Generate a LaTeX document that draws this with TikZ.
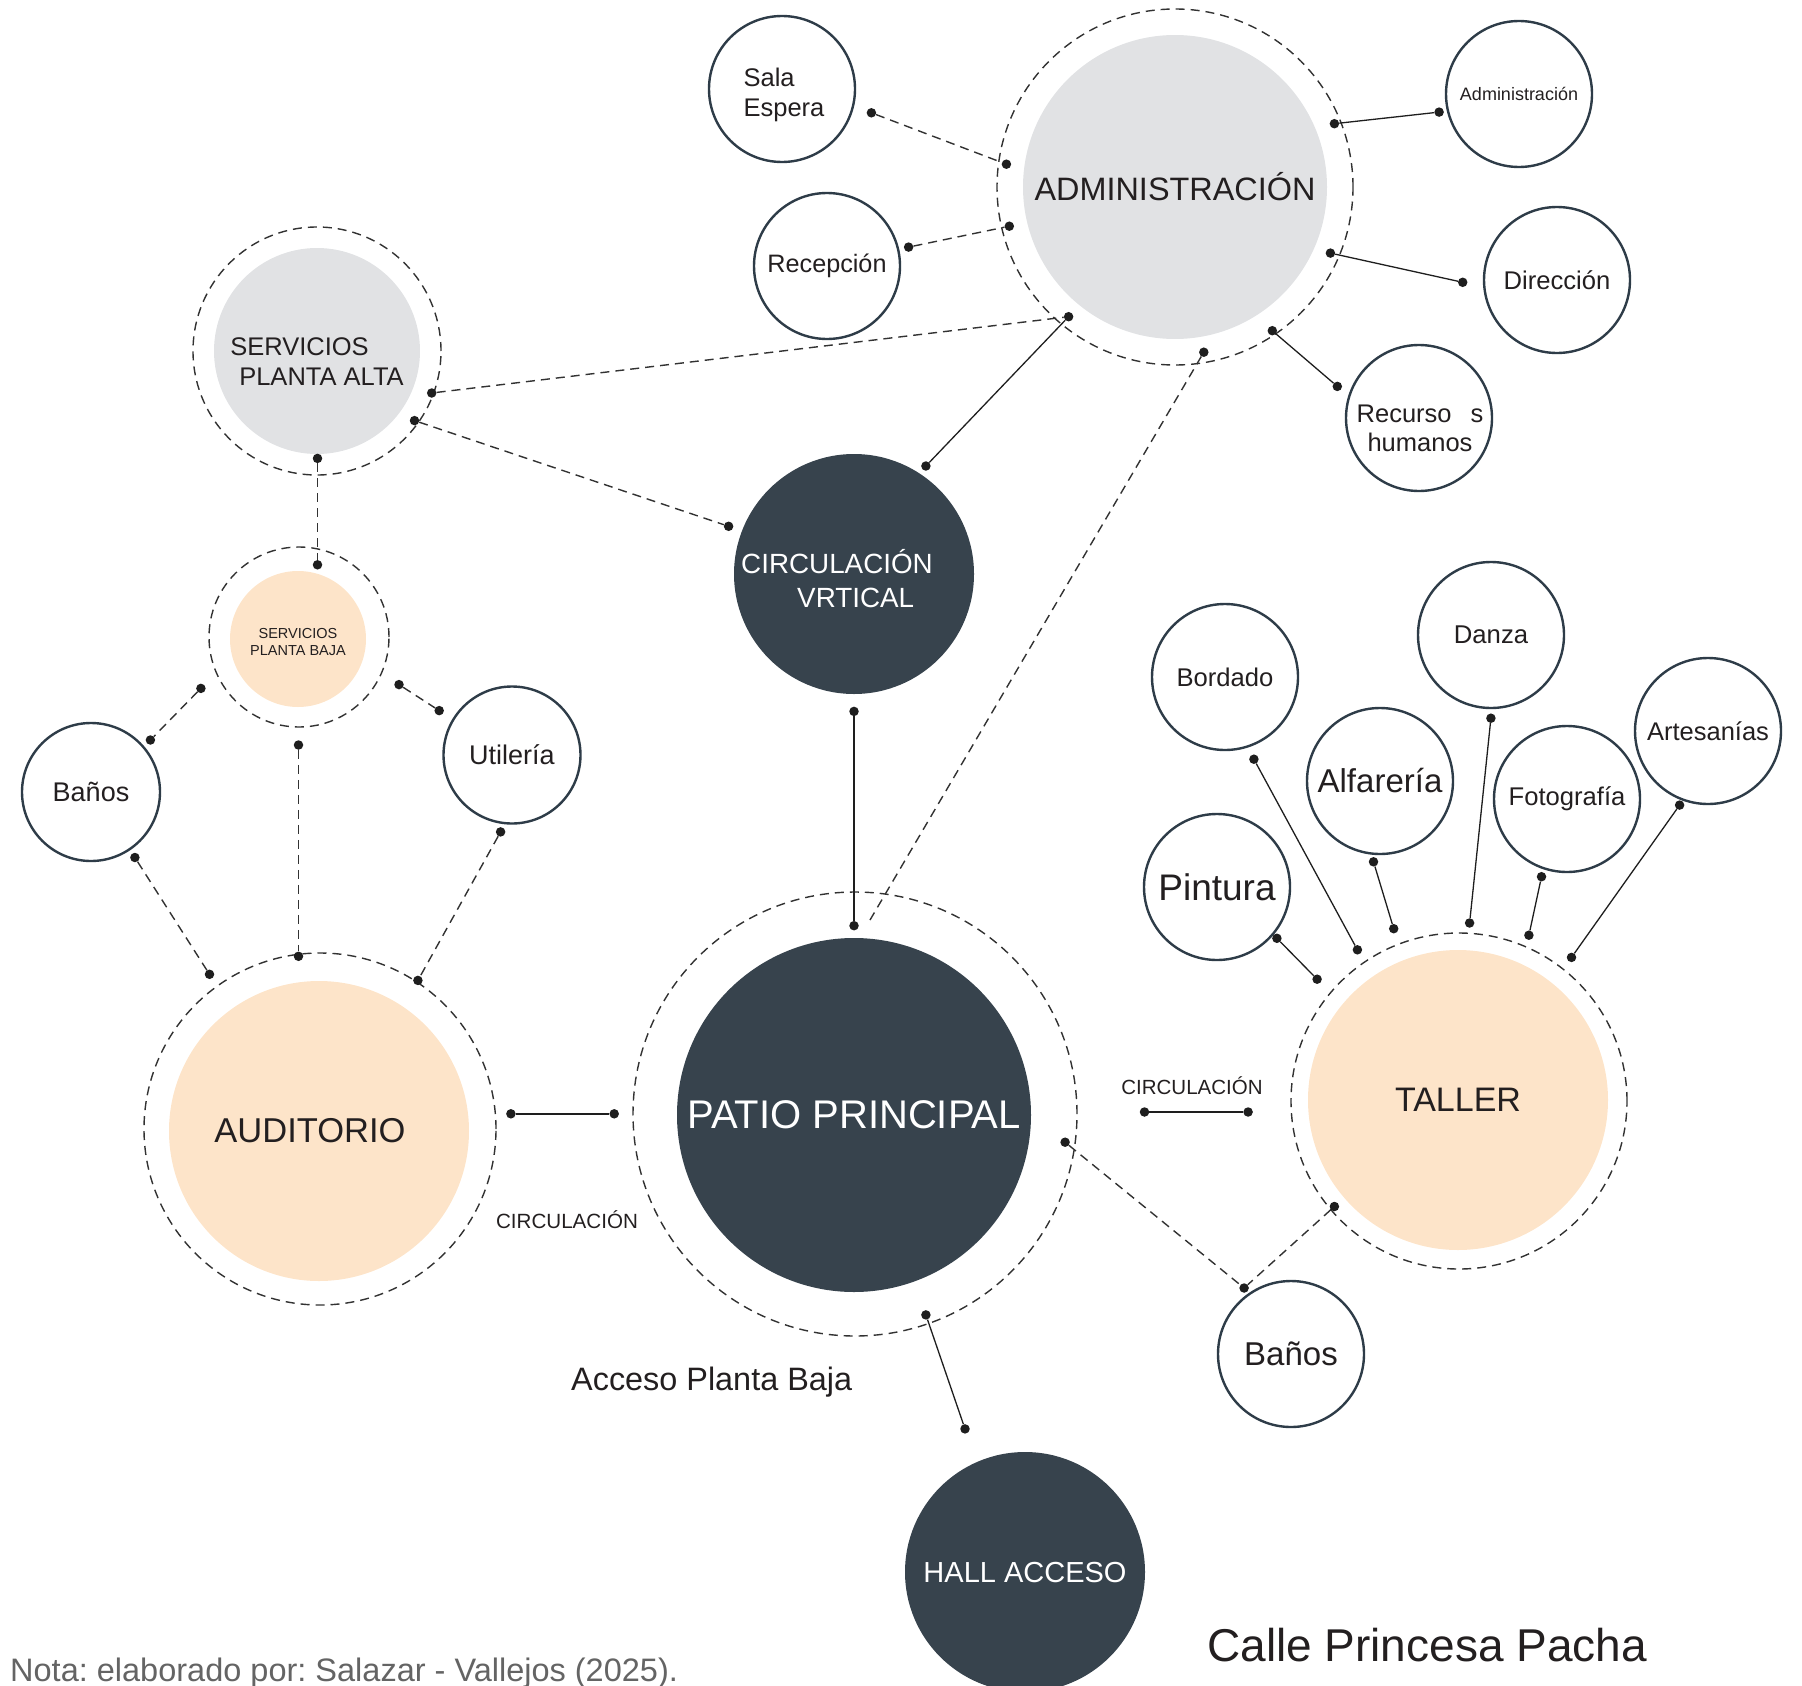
\documentclass[tikz,border=0pt]{standalone}
\usepackage{fontspec}
\setmainfont{Liberation Sans}
\usetikzlibrary{calc}
\definecolor{darkc}{RGB}{55,67,77}
\definecolor{satc}{RGB}{46,60,72}
\definecolor{grayc}{RGB}{225,226,228}
\definecolor{peachc}{RGB}{253,228,201}
\definecolor{ringc}{RGB}{50,50,50}
\definecolor{txtc}{RGB}{35,31,32}
\definecolor{notac}{RGB}{100,100,100}
\definecolor{linec}{RGB}{30,30,30}
\newcommand\fsz[2]{\fontsize{#1}{#2}\selectfont}
\frenchspacing
\begin{document}
\begin{tikzpicture}[x=1pt,y=-1pt,
  ring/.style={circle, draw=ringc, line width=1.4pt, dash pattern=on 9pt off 6pt, inner sep=0pt, minimum size=#1},
  blob/.style={circle, inner sep=0pt, minimum size=#1, align=center, text=txtc},
  sat/.style={circle, draw=satc, line width=2.4pt, fill=white, inner sep=0pt, minimum size=146pt, align=center, text=txtc},
  dot/.style={circle, fill=linec, inner sep=0pt, minimum size=9.5pt},
  conn/.style={draw=linec, line width=1.3pt},
  thickconn/.style={draw=linec, line width=2.4pt},
  dconn/.style={draw=ringc, line width=1.4pt, dash pattern=on 9pt off 6pt},
  txt/.style={inner sep=0pt, text=txtc}]
\useasboundingbox (0,0) rectangle (1802,1686);

% dashed rings
\node[ring=356pt] (admR) at (1175,187) {};
\node[ring=248pt] (spaR) at (317,351) {};
\node[ring=180pt] (spbR) at (299,637) {};
\node[ring=352pt] (audR) at (320,1129) {};
\node[ring=444pt] (patR) at (855,1114) {};
\node[ring=336pt] (talR) at (1459,1101) {};

% main filled circles
\node[blob=304pt, fill=grayc, font=\fsz{32.4}{38}] (adm) at (1175,187) {ADMINISTRACIÓN};
\node[blob=206pt, fill=grayc] (spa) at (317,351) {};
\node[txt, align=left, font=\fsz{25.5}{30}] (spa-t) at ([yshift=-11pt]spa.center) {SERVICIOS\\\hspace*{9pt}PLANTA ALTA};
\node[blob=136pt, fill=peachc] (spb) at (298,639) {};
\node[txt, align=center, font=\fsz{14.5}{17}] (spb-t) at ([yshift=-3.5pt]spb.center) {SERVICIOS\\PLANTA BAJA};
\node[blob=240pt, fill=darkc] (cv) at (854,574) {};
\node[txt, text=white, align=left, font=\fsz{27.8}{33.6}] (cv-t) at ([xshift=-17pt,yshift=-4.5pt]cv.center) {CIRCULACIÓN\\\hspace*{56pt}VRTICAL};
\node[blob=300pt, fill=peachc, font=\fsz{34.5}{40}] (aud) at (319,1131) {AUDITORIO\hspace*{18pt}};
\node[blob=354pt, fill=darkc, text=white, font=\fsz{40}{46}] (pat) at (854,1115) {PATIO PRINCIPAL};
\node[blob=300pt, fill=peachc, font=\fsz{34}{40}] (tal) at (1458,1100) {TALLER};
\node[blob=240pt, fill=darkc, text=white, font=\fsz{29}{34}] (hall) at (1025,1572) {HALL ACCESO};

% satellites
\node[sat] (sala) at (782,89) {};
\node[txt, align=left, font=\fsz{25.5}{30.8}] (sala-t) at ([xshift=2pt,yshift=-6pt]sala.center) {Sala\\Espera};
\node[sat, font=\fsz{25.2}{30}] (rec) at (827,266) {Recepción};
\node[sat, font=\fsz{18}{22}] (adms) at (1519,94) {Administración};
\node[sat, font=\fsz{25.6}{30}] (dir) at (1557,280) {Dirección};
\node[sat] (rrhh) at (1419,418) {};
\node[txt, align=center, font=\fsz{25.5}{29}] (rrhh-t) at ([xshift=1pt,yshift=-10pt]rrhh.center) {Recurso\hspace{19pt}s\\humanos};
\node[sat, minimum size=138pt, font=\fsz{27}{32}] (banl) at (91,792) {Baños};
\node[sat, minimum size=137pt, font=\fsz{27}{32}] (util) at (512,755) {Utilería};
\node[sat, font=\fsz{33}{38}] (banr) at (1291,1354) {Baños};
\node[sat, font=\fsz{25.6}{30}] (bord) at (1225,677) {Bordado};
\node[sat, font=\fsz{25.7}{30}] (danz) at (1491,635) {Danza};
\node[sat, font=\fsz{33}{38}] (alf) at (1380,781) {Alfarería};
\node[sat, font=\fsz{37}{42}] (pint) at (1217,887) {Pintura};
\node[sat, font=\fsz{25.6}{30}] (foto) at (1567,799) {Fotografía};
\node[sat, font=\fsz{25.5}{30}] (arte) at (1708,731) {Artesanías};

% dots
\node[dot] (dSE) at (871.4,112.8) {};
\node[dot] (dA1) at (1006.4,164.2) {};
\node[dot] (dRe) at (908.6,247.1) {};
\node[dot] (dA2) at (1009.3,226.2) {};
\node[dot] (dA3) at (1334.4,123.7) {};
\node[dot] (dAd) at (1439.1,112.1) {};
\node[dot] (dA4) at (1330.4,253.1) {};
\node[dot] (dDi) at (1462.7,282.3) {};
\node[dot] (dA5) at (1272.3,330.7) {};
\node[dot] (dRH) at (1337.3,386.4) {};
\node[dot] (dA6) at (1068.6,316.7) {};
\node[dot] (dA7) at (1203.8,352.2) {};
\node[dot] (dCV1) at (925.9,466) {};
\node[dot] (dCV2) at (728.6,526.3) {};
\node[dot] (dCV3) at (854,711.4) {};
\node[dot] (dSPA1) at (431.7,393) {};
\node[dot] (dSPA2) at (414.5,420.6) {};
\node[dot] (dSPA3) at (317.5,458.4) {};
\node[dot] (dSB1) at (317.5,564.8) {};
\node[dot] (dSB2) at (200.9,688.4) {};
\node[dot] (dSB3) at (399,684.6) {};
\node[dot] (dSB4) at (298.5,745) {};
\node[dot] (dBL1) at (150.4,740) {};
\node[dot] (dBL2) at (134.9,857.5) {};
\node[dot] (dU1) at (439.2,710.6) {};
\node[dot] (dU2) at (500.6,831.9) {};
\node[dot] (dAu1) at (298.5,956.3) {};
\node[dot] (dAu2) at (209.5,974.3) {};
\node[dot] (dAu3) at (417.9,980.4) {};
\node[dot] (dAu4) at (510.9,1113.8) {};
\node[dot] (dP1) at (854,925.7) {};
\node[dot] (dP2) at (614.2,1113.8) {};
\node[dot] (dP3) at (1144.5,1112) {};
\node[dot] (dP4) at (1065.1,1142.2) {};
\node[dot] (dP5) at (925.9,1314.9) {};
\node[dot] (dH) at (965,1428.9) {};
\node[dot] (dT1) at (1248.1,1112) {};
\node[dot] (dT2) at (1334.4,1206.5) {};
\node[dot] (dBR) at (1244.1,1288) {};
\node[dot] (dPi1) at (1276.9,938.3) {};
\node[dot] (dPi2) at (1317.1,979.2) {};
\node[dot] (dBo1) at (1253.9,759.2) {};
\node[dot] (dBo2) at (1357.4,949.8) {};
\node[dot] (dAl1) at (1373.5,861.8) {};
\node[dot] (dAl2) at (1393.7,928.7) {};
\node[dot] (dDa1) at (1490.9,718.2) {};
\node[dot] (dDa2) at (1469.6,923) {};
\node[dot] (dFo1) at (1541.5,876.7) {};
\node[dot] (dFo2) at (1528.9,935.2) {};
\node[dot] (dAr1) at (1679.6,805.1) {};
\node[dot] (dAr2) at (1571.5,957.4) {};
\coordinate (cP) at (870,920);

% connectors
\draw[dconn] (dSE) -- (dA1);
\draw[dconn] (dRe) -- (dA2);
\draw[conn] (dA3) -- (dAd);
\draw[conn] (dA4) -- (dDi);
\draw[conn] (dA5) -- (dRH);
\draw[conn] (dA6) -- (dCV1);
\draw[dconn] (dSPA1) -- (dA6);
\draw[dconn] (dA7) -- (cP);
\draw[dconn] (dSPA2) -- (dCV2);
\draw[conn] (dCV3) -- (dP1);
\draw[dconn] (dSPA3) -- (dSB1);
\draw[dconn] (dSB2) -- (dBL1);
\draw[dconn] (dSB3) -- (dU1);
\draw[dconn] (dSB4) -- (dAu1);
\draw[dconn] (dBL2) -- (dAu2);
\draw[dconn] (dU2) -- (dAu3);
\draw[thickconn] (dAu4) -- (dP2);
\draw[thickconn] (dP3) -- (dT1);
\draw[dconn] (dP4) -- (dBR);
\draw[dconn] (dT2) -- (dBR);
\draw[conn] (dP5) -- (dH);
\draw[conn] (dPi1) -- (dPi2);
\draw[conn] (dBo1) -- (dBo2);
\draw[conn] (dAl1) -- (dAl2);
\draw[conn] (dDa1) -- (dDa2);
\draw[conn] (dFo1) -- (dFo2);
\draw[conn] (dAr1) -- (dAr2);

% free texts
\node[txt, anchor=base, font=\fsz{20.6}{24}] (circ1) at (567,1228.5) {CIRCULACIÓN};
\node[txt, anchor=base, font=\fsz{20.5}{24}] (circ2) at (1192,1094.5) {CIRCULACIÓN};
\node[txt, anchor=base west, font=\fsz{32.4}{38}] (acc) at (571,1390) {Acceso Planta Baja};
\node[txt, anchor=base west, font=\fsz{46}{52}] (calle) at (1207,1661) {Calle Princesa Pacha};
\node[txt, anchor=base west, font=\fsz{32.5}{38}, text=notac] (nota) at (10,1681) {Nota: elaborado por: Salazar - Vallejos (2025).};
\end{tikzpicture}
\end{document}
